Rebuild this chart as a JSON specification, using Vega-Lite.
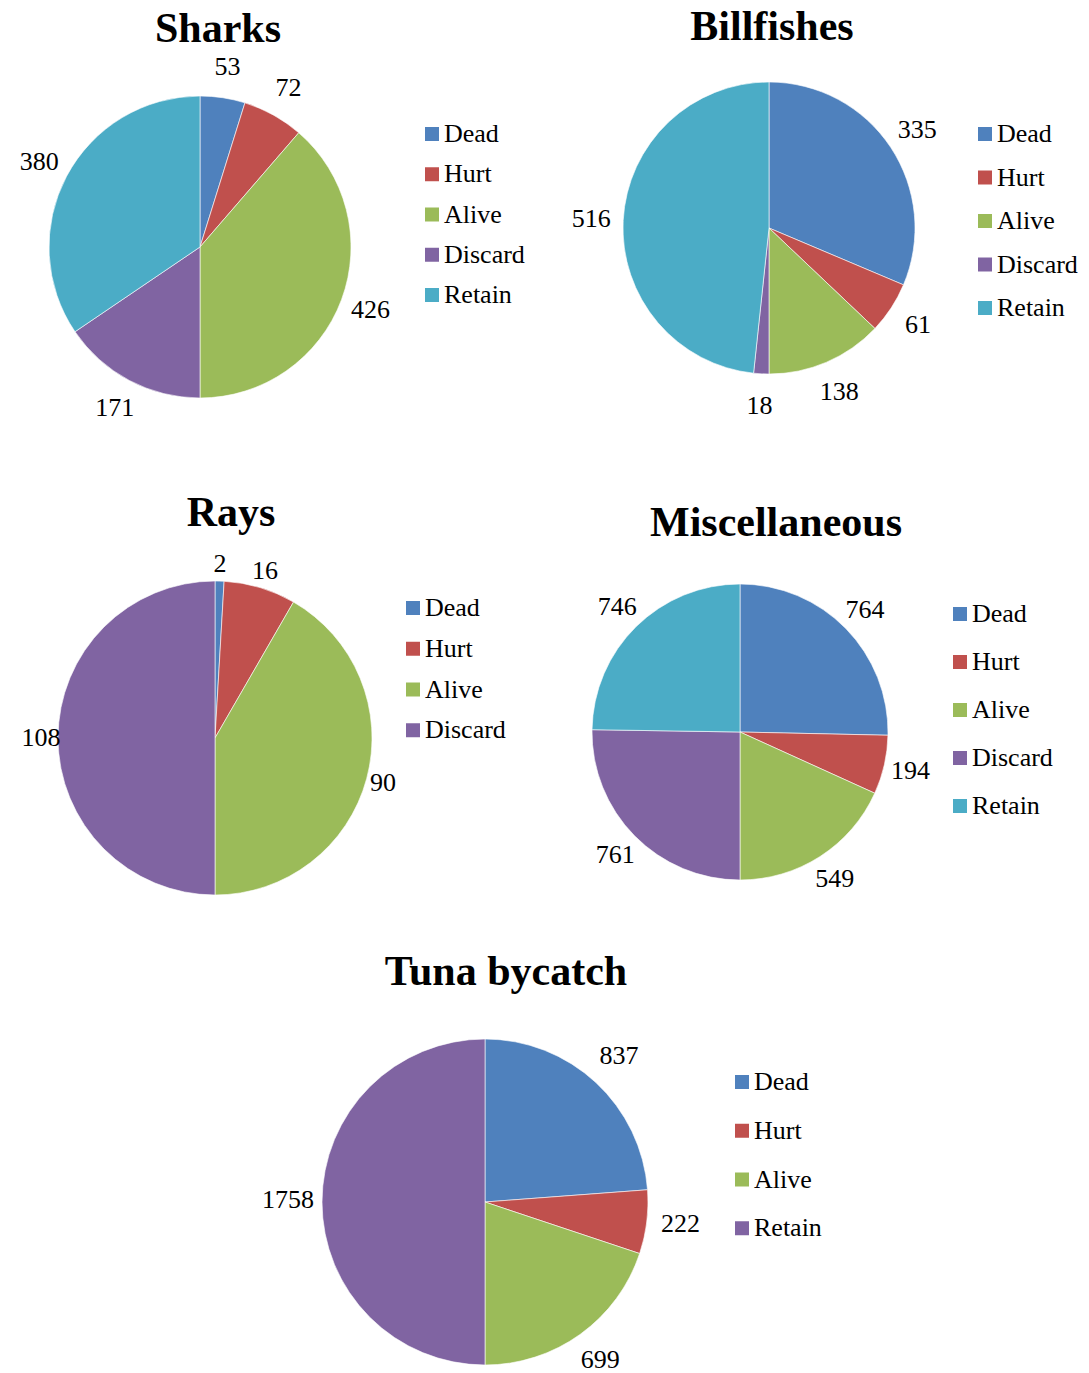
{
  "$schema": "https://vega.github.io/schema/vega-lite/v6.json",
  "background": "white",
  "padding": {"left": 0, "top": 6, "right": 0, "bottom": 0},
  "config": {
    "view": {"stroke": null},
    "font": "Liberation Serif",
    "title": {"font": "Liberation Serif", "fontSize": 42, "fontWeight": "bold", "color": "black", "anchor": "middle", "frame": "group", "offset": 0},
    "legend": {"title": null, "orient": "none", "symbolType": "square", "symbolSize": 196, "symbolStrokeWidth": 0, "labelFont": "Liberation Serif", "labelFontSize": 26, "labelColor": "black", "labelOffset": -1}
  },
  "datasets": {
    "sharks": [
      {"cat": "Dead", "n": 53, "idx": 1},
      {"cat": "Hurt", "n": 72, "idx": 2},
      {"cat": "Alive", "n": 426, "idx": 3},
      {"cat": "Discard", "n": 171, "idx": 4},
      {"cat": "Retain", "n": 380, "idx": 5}
    ],
    "billfishes": [
      {"cat": "Dead", "n": 335, "idx": 1},
      {"cat": "Hurt", "n": 61, "idx": 2},
      {"cat": "Alive", "n": 138, "idx": 3},
      {"cat": "Discard", "n": 18, "idx": 4},
      {"cat": "Retain", "n": 516, "idx": 5}
    ],
    "rays": [
      {"cat": "Dead", "n": 2, "idx": 1},
      {"cat": "Hurt", "n": 16, "idx": 2},
      {"cat": "Alive", "n": 90, "idx": 3},
      {"cat": "Discard", "n": 108, "idx": 4}
    ],
    "misc": [
      {"cat": "Dead", "n": 764, "idx": 1},
      {"cat": "Hurt", "n": 194, "idx": 2},
      {"cat": "Alive", "n": 549, "idx": 3},
      {"cat": "Discard", "n": 761, "idx": 4},
      {"cat": "Retain", "n": 746, "idx": 5}
    ],
    "tuna": [
      {"cat": "Dead", "n": 837, "idx": 1},
      {"cat": "Hurt", "n": 222, "idx": 2},
      {"cat": "Alive", "n": 699, "idx": 3},
      {"cat": "Retain", "n": 1758, "idx": 4}
    ]
  },
  "bounds": "full",
  "spacing": 45,
  "resolve": {"scale": {"color": "independent", "theta": "independent"}, "legend": {"color": "independent"}},
  "vconcat": [
    {
      "bounds": "flush",
      "spacing": 150,
      "resolve": {"scale": {"color": "independent", "theta": "independent"}, "legend": {"color": "independent"}},
      "hconcat": [
        {
          "title": {"text": "Sharks", "dx": 18, "offset": -4},
          "width": 400, "height": 400,
          "data": {"name": "sharks"},
          "encoding": {
            "theta": {"field": "n", "type": "quantitative", "stack": true},
            "order": {"field": "idx", "type": "quantitative"}
          },
          "layer": [
            {"mark": {"type": "arc", "outerRadius": 151, "stroke": "white", "strokeWidth": 0.6},
             "encoding": {"color": {"field": "cat", "type": "nominal",
               "scale": {"domain": ["Dead", "Hurt", "Alive", "Discard", "Retain"], "range": ["#4F81BD", "#C0504D", "#9BBB59", "#8064A2", "#4BACC6"]},
               "legend": {"legendX": 419, "legendY": 74, "rowPadding": 14.25}}}},
            {"mark": {"type": "text", "radius": 182, "fontSize": 26, "font": "Liberation Serif", "fill": "black"},
             "encoding": {"text": {"field": "n", "type": "quantitative"}, "detail": {"field": "cat"}}}
          ]
        },
        {
          "title": {"text": "Billfishes", "dx": 3, "offset": -2},
          "width": 438, "height": 362,
          "data": {"name": "billfishes"},
          "encoding": {
            "theta": {"field": "n", "type": "quantitative", "stack": true},
            "order": {"field": "idx", "type": "quantitative"}
          },
          "layer": [
            {"mark": {"type": "arc", "outerRadius": 146, "stroke": "white", "strokeWidth": 0.6},
             "encoding": {"color": {"field": "cat", "type": "nominal",
               "scale": {"domain": ["Dead", "Hurt", "Alive", "Discard", "Retain"], "range": ["#4F81BD", "#C0504D", "#9BBB59", "#8064A2", "#4BACC6"]},
               "legend": {"legendX": 422, "legendY": 74, "rowPadding": 17.5}}}},
            {"mark": {"type": "text", "radius": 178, "fontSize": 26, "font": "Liberation Serif", "fill": "black"},
             "encoding": {"text": {"field": "n", "type": "quantitative"}, "detail": {"field": "cat"}}}
          ]
        }
      ]
    },
    {
      "bounds": "flush",
      "spacing": 150,
      "resolve": {"scale": {"color": "independent", "theta": "independent"}, "legend": {"color": "independent"}},
      "hconcat": [
        {
          "title": {"text": "Rays", "dx": 16, "offset": 16},
          "width": 430, "height": 334,
          "data": {"name": "rays"},
          "encoding": {
            "theta": {"field": "n", "type": "quantitative", "stack": true},
            "order": {"field": "idx", "type": "quantitative"}
          },
          "layer": [
            {"mark": {"type": "arc", "outerRadius": 157, "stroke": "white", "strokeWidth": 0.6},
             "encoding": {"color": {"field": "cat", "type": "nominal",
               "scale": {"domain": ["Dead", "Hurt", "Alive", "Discard"], "range": ["#4F81BD", "#C0504D", "#9BBB59", "#8064A2"]},
               "legend": {"legendX": 400, "legendY": 24, "rowPadding": 14.75}}}},
            {"mark": {"type": "text", "radius": 174, "fontSize": 26, "font": "Liberation Serif", "fill": "black"},
             "encoding": {"text": {"field": "n", "type": "quantitative"}, "detail": {"field": "cat"}}}
          ]
        },
        {
          "title": {"text": "Miscellaneous", "dx": 36, "offset": 26},
          "width": 320, "height": 322,
          "data": {"name": "misc"},
          "encoding": {
            "theta": {"field": "n", "type": "quantitative", "stack": true},
            "order": {"field": "idx", "type": "quantitative"}
          },
          "layer": [
            {"mark": {"type": "arc", "outerRadius": 148, "stroke": "white", "strokeWidth": 0.6},
             "encoding": {"color": {"field": "cat", "type": "nominal",
               "scale": {"domain": ["Dead", "Hurt", "Alive", "Discard", "Retain"], "range": ["#4F81BD", "#C0504D", "#9BBB59", "#8064A2", "#4BACC6"]},
               "legend": {"legendX": 367, "legendY": 30, "rowPadding": 22}}}},
            {"mark": {"type": "text", "radius": 175, "fontSize": 26, "font": "Liberation Serif", "fill": "black"},
             "encoding": {"text": {"field": "n", "type": "quantitative"}, "detail": {"field": "cat"}}}
          ]
        }
      ]
    },
    {
      "title": {"text": "Tuna bycatch", "dx": 21, "offset": 44},
      "width": 970, "height": 326,
      "data": {"name": "tuna"},
      "encoding": {
        "theta": {"field": "n", "type": "quantitative", "stack": true},
        "order": {"field": "idx", "type": "quantitative"}
      },
      "layer": [
        {"mark": {"type": "arc", "outerRadius": 163, "stroke": "white", "strokeWidth": 0.6},
         "encoding": {"color": {"field": "cat", "type": "nominal",
           "scale": {"domain": ["Dead", "Hurt", "Alive", "Retain"], "range": ["#4F81BD", "#C0504D", "#9BBB59", "#8064A2"]},
           "legend": {"legendX": 729, "legendY": 30, "rowPadding": 22.75}}}},
        {"mark": {"type": "text", "radius": 197, "dy": -2, "fontSize": 26, "font": "Liberation Serif", "fill": "black"},
         "encoding": {"text": {"field": "n", "type": "quantitative"}, "detail": {"field": "cat"}}}
      ]
    }
  ]
}
